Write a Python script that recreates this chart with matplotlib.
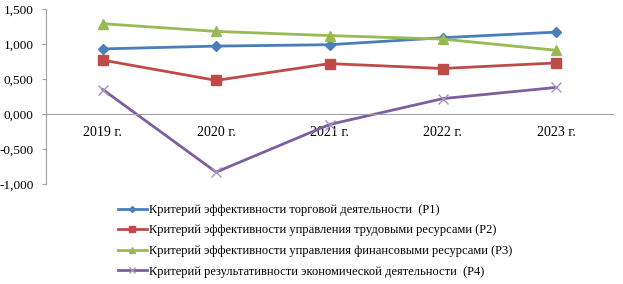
import matplotlib.pyplot as plt

plt.rcParams['font.family'] = ['Liberation Serif', 'DejaVu Serif']

years = ["2019 г.", "2020 г.", "2021 г.", "2022 г.", "2023 г."]
p1 = [0.93, 0.97, 0.99, 1.09, 1.17]
p2 = [0.77, 0.48, 0.72, 0.65, 0.73]
p3 = [1.29, 1.18, 1.12, 1.07, 0.91]
p4 = [0.35, -0.83, -0.15, 0.22, 0.38]
labels = [
    "Критерий эффективности торговой деятельности  (P1)",
    "Критерий эффективности управления трудовыми ресурсами (P2)",
    "Критерий эффективности управления финансовыми ресурсами (P3)",
    "Критерий результативности экономической деятельности  (P4)",
]
yticks = [-1.0, -0.5, 0.0, 0.5, 1.0, 1.5]

W, H = 623, 284
fig = plt.figure(figsize=(W / 100, H / 100), dpi=100)
ax = fig.add_axes([46 / W, 1 - 184 / H, (613 - 46) / W, 175 / H])

x = range(len(years))
ax.plot(x, p1, color="#4A7EBB", lw=2, marker="D", ms=5, label=labels[0])
ax.plot(x, p2, color="#BE4B48", lw=2, marker="s", ms=7, label=labels[1])
ax.plot(x, p3, color="#98B954", lw=2, marker="^", ms=7, label=labels[2])
ax.plot(x, p4, color="#7D5FA0", lw=2, marker="x", ms=7, mew=1, mec="#A593C2", label=labels[3])

ax.set_xlim(-0.5, 4.5)
ax.set_ylim(-1.0, 1.5)
ax.set_yticks(yticks)
ax.set_yticklabels([("%.3f" % v).replace(".", ",") for v in yticks], fontsize=9.5)
ax.set_xticks(list(x))
ax.set_xticklabels(years, fontsize=9.5)

for s in ["top", "right"]:
    ax.spines[s].set_visible(False)
ax.spines["left"].set_color("#A0A0A0")
ax.spines["bottom"].set_color("#A0A0A0")
ax.spines["bottom"].set_position(("data", 0))
ax.tick_params(axis="x", length=0, pad=9)
ax.tick_params(axis="y", length=3, color="#A0A0A0", pad=6)

fig.legend(loc="upper left", bbox_to_anchor=(118 / W, 1 - 204 / H), frameon=False,
           fontsize=9, handlelength=2.3, handletextpad=0.15, labelspacing=0.68,
           markerscale=0.6, borderaxespad=0, borderpad=0)

fig.savefig("out.png", dpi=100)
